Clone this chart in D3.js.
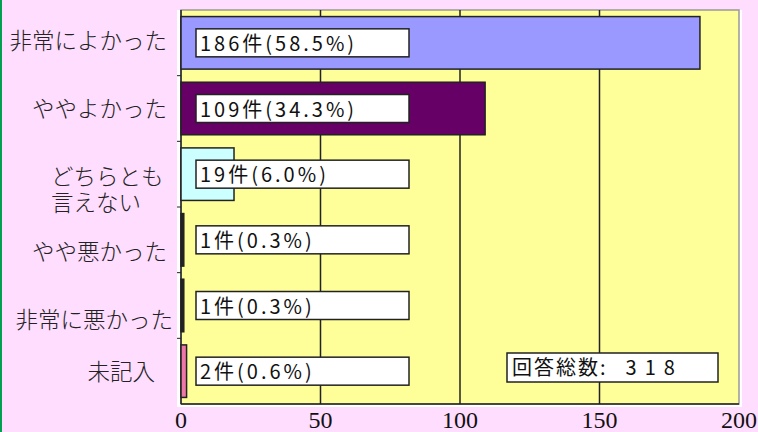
<!DOCTYPE html>
<html>
<head>
<meta charset="utf-8">
<script src="https://cdn.jsdelivr.net/npm/d3@7"></script>
<style>
body { margin: 0; background: #FFDDFF; }
#chart { width: 758px; height: 432px; overflow: hidden; }
</style>
</head>
<body>
<div id="chart"></div>
<script>
const width = 758
const height = 432
// data
const categories = ['非常によかった', 'ややよかった', 'どちらとも\n言えない', 'やや悪かった', '非常に悪かった', '未記入']
const counts = [186, 109, 19, 1, 1, 2]
const percents = ['58.5', '34.3', '6.0', '0.3', '0.3', '0.6']
const xTicks = [0, 50, 100, 150, 200]
const totalCount = 318
const barColors = ['#9999FF', '#660066', '#CCFFFF', '#222222', '#222222', '#EE77AA']
// label placement (layout only)
const labelAnchor = ['end', 'end', 'start', 'end', 'end', 'end']
const labelX = [167, 167, 51, 167, 173, 155]
const labelDy = [-2, 0, 3, 12, 14, 1]

const plot = {left: 181, right: 739, top: 10, bottom: 404}

const svg = d3.select('#chart')
    .append('svg')
    .attr('width', width)
    .attr('height', height)

svg.append('rect')
    .attr('x', 0).attr('y', 0)
    .attr('width', width).attr('height', height)
    .attr('fill', '#FFDDFF')
svg.append('rect')
    .attr('x', 0).attr('y', 0)
    .attr('width', 2).attr('height', height)
    .attr('fill', '#00A050')

const x = d3.scaleLinear().domain([0, 200]).range([plot.left, plot.right])
const y = d3.scaleBand().domain(categories).range([plot.top, plot.bottom])
    .paddingInner(0.2).paddingOuter(0.1)

/* plot area */
svg.append('rect')
    .attr('x', plot.left - 4).attr('y', plot.top)
    .attr('width', plot.right - plot.left + 7).attr('height', plot.bottom - plot.top + 3)
    .attr('fill', 'white')
svg.append('rect')
    .attr('x', plot.left).attr('y', plot.top)
    .attr('width', plot.right - plot.left).attr('height', plot.bottom - plot.top)
    .attr('fill', '#FFFF99')
    .attr('stroke', '#999')
    .attr('stroke-width', 1.5)

/* gridlines */
svg.selectAll('.grid')
    .data(xTicks.slice(1, -1))
    .enter()
    .append('line')
    .attr('x1', d => x(d)).attr('x2', d => x(d))
    .attr('y1', plot.top).attr('y2', plot.bottom)
    .attr('stroke', '#222')
    .attr('stroke-width', 1.5)

/* axes lines */
svg.append('line')
    .attr('x1', plot.left).attr('x2', plot.left)
    .attr('y1', plot.top).attr('y2', plot.bottom)
    .attr('stroke', '#222').attr('stroke-width', 1.5)
svg.append('line')
    .attr('x1', plot.left).attr('x2', plot.right)
    .attr('y1', plot.bottom).attr('y2', plot.bottom)
    .attr('stroke', '#222').attr('stroke-width', 1.5)

// small ticks at category boundaries
svg.selectAll('.ytick')
    .data(categories.slice(1))
    .enter()
    .append('line')
    .attr('x1', plot.left - 4).attr('x2', plot.left)
    .attr('y1', d => y(d) - y.step() * y.paddingInner() / 2)
    .attr('y2', d => y(d) - y.step() * y.paddingInner() / 2)
    .attr('stroke', '#222')

/* bars */
svg.selectAll('.bar')
    .data(counts)
    .enter()
    .append('rect')
    .attr('x', x(0))
    .attr('y', (_, i) => y(categories[i]))
    .attr('width', d => x(d) - x(0))
    .attr('height', y.bandwidth())
    .attr('fill', (_, i) => barColors[i])
    .attr('stroke', '#222')
    .attr('stroke-width', 1.5)

/* value boxes */
const boxes = svg.selectAll('.vbox')
    .data(counts)
    .enter()
    .append('g')
    .attr('transform', (_, i) => `translate(196,${y(categories[i]) + y.bandwidth() / 2})`)
boxes.append('rect')
    .attr('x', 0).attr('y', -14)
    .attr('width', 213).attr('height', 28)
    .attr('fill', 'white')
    .attr('stroke', '#222')
    .attr('stroke-width', 1.5)
boxes.append('text')
    .attr('x', 4)
    .attr('y', 8)
    .attr('font-family', '"Noto Sans CJK JP", sans-serif')
    .attr('font-size', 20)
    .attr('letter-spacing', 3)
    .attr('fill', '#111')
    .text((d, i) => `${d}件(${percents[i]}%)`)

/* category labels */
categories.forEach((c, i) => {
    const lines = c.split('\n')
    const t = svg.append('text')
        .attr('text-anchor', labelAnchor[i])
        .attr('font-family', '"Noto Sans CJK JP", sans-serif')
        .attr('font-weight', 300)
        .attr('font-size', 22.5)
        .attr('fill', '#222')
    lines.forEach((ln, j) => {
        t.append('tspan')
            .attr('x', labelX[i])
            .attr('y', y(c) + y.bandwidth() / 2 + labelDy[i] + j * 26 + 8)
            .text(ln)
    })
})

/* x tick labels */
svg.selectAll('.xlab')
    .data(xTicks)
    .enter()
    .append('text')
    .attr('x', d => x(d))
    .attr('y', 428)
    .attr('text-anchor', 'middle')
    .attr('font-family', '"Liberation Serif", serif')
    .attr('font-size', 24)
    .attr('fill', '#111')
    .text(d => d)

/* total */
svg.append('rect')
    .attr('x', 507).attr('y', 353)
    .attr('width', 211).attr('height', 29)
    .attr('fill', 'white')
    .attr('stroke', '#222')
    .attr('stroke-width', 1.5)
const tt = svg.append('text')
    .attr('x', 512).attr('y', 375)
    .attr('font-family', '"Noto Sans CJK JP", sans-serif')
    .attr('font-size', 20)
    .attr('fill', '#111')
tt.append('tspan').attr('letter-spacing', 2).text('回答総数:')
tt.append('tspan').attr('letter-spacing', 8).attr('dx', 18).text(totalCount)
</script>
</body>
</html>
